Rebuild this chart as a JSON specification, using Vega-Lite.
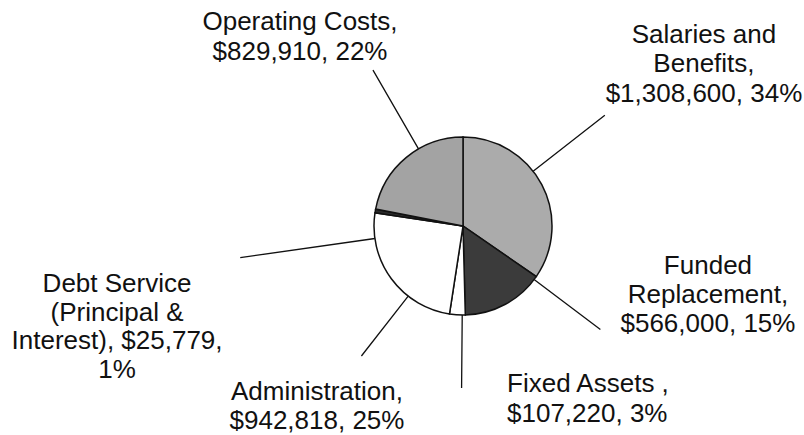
{
  "$schema": "https://vega.github.io/schema/vega-lite/v6.json",
  "width": 682,
  "height": 418,
  "autosize": {"type": "none"},
  "padding": {"left": 122, "top": 17, "right": 0, "bottom": 0},
  "background": "white",
  "config": {"view": {"stroke": null}, "text": {"font": "Liberation Sans"}},
  "data": {
    "values": [
      {"category": "Salaries and Benefits", "amount": 1308600, "order": 1, "label": "Salaries and\nBenefits,\n$1,308,600, 34%"},
      {"category": "Funded Replacement", "amount": 566000, "order": 2, "label": "Funded\nReplacement,\n$566,000, 15%"},
      {"category": "Fixed Assets", "amount": 107220, "order": 3, "label": "Fixed Assets ,\n$107,220, 3%"},
      {"category": "Administration", "amount": 942818, "order": 4, "label": "Administration,\n$942,818, 25%"},
      {"category": "Debt Service", "amount": 25779, "order": 5, "label": "Debt Service\n(Principal &\nInterest), $25,779,\n1%"},
      {"category": "Operating Costs", "amount": 829910, "order": 6, "label": "Operating Costs,\n$829,910, 22%"}
    ]
  },
  "encoding": {
    "theta": {"field": "amount", "type": "quantitative", "stack": true},
    "order": {"field": "order", "type": "quantitative"}
  },
  "layer": [
    {
      "mark": {"type": "arc", "radius": 89, "stroke": "#111111", "strokeWidth": 1.5},
      "encoding": {
        "color": {
          "field": "category", "type": "nominal", "legend": null,
          "scale": {
            "domain": ["Salaries and Benefits", "Funded Replacement", "Fixed Assets", "Administration", "Debt Service", "Operating Costs"],
            "range": ["#ababab", "#3b3b3b", "#ffffff", "#ffffff", "#2a2a2a", "#a3a3a3"]
          }
        }
      }
    },
    {
      "mark": {"type": "arc", "radius": 180, "radius2": 89, "padAngle": 3.1416, "thetaOffset": 0.166, "theta2Offset": 0.166, "fillOpacity": 0, "stroke": "#111111", "strokeWidth": 1.3},
      "encoding": {"strokeOpacity": {"condition": {"test": "datum.category === 'Operating Costs'", "value": 1}, "value": 0}}
    },
    {
      "mark": {"type": "arc", "radius": 180, "radius2": 89, "padAngle": 3.1416, "thetaOffset": -0.18, "theta2Offset": -0.18, "fillOpacity": 0, "stroke": "#111111", "strokeWidth": 1.3},
      "encoding": {"strokeOpacity": {"condition": {"test": "datum.category === 'Salaries and Benefits'", "value": 1}, "value": 0}}
    },
    {
      "mark": {"type": "arc", "radius": 172, "radius2": 89, "padAngle": 3.1416, "thetaOffset": -0.429, "theta2Offset": -0.429, "fillOpacity": 0, "stroke": "#111111", "strokeWidth": 1.3},
      "encoding": {"strokeOpacity": {"condition": {"test": "datum.category === 'Funded Replacement'", "value": 1}, "value": 0}}
    },
    {
      "mark": {"type": "arc", "radius": 162, "radius2": 89, "padAngle": 3.1416, "thetaOffset": -0.0545, "theta2Offset": -0.0545, "fillOpacity": 0, "stroke": "#111111", "strokeWidth": 1.3},
      "encoding": {"strokeOpacity": {"condition": {"test": "datum.category === 'Fixed Assets'", "value": 1}, "value": 0}}
    },
    {
      "mark": {"type": "arc", "radius": 165, "radius2": 89, "padAngle": 3.1416, "thetaOffset": -0.2726, "theta2Offset": -0.2726, "fillOpacity": 0, "stroke": "#111111", "strokeWidth": 1.3},
      "encoding": {"strokeOpacity": {"condition": {"test": "datum.category === 'Administration'", "value": 1}, "value": 0}}
    },
    {
      "mark": {"type": "arc", "radius": 225, "radius2": 89, "padAngle": 3.1416, "thetaOffset": -0.311, "theta2Offset": -0.311, "fillOpacity": 0, "stroke": "#111111", "strokeWidth": 1.3},
      "encoding": {"strokeOpacity": {"condition": {"test": "datum.category === 'Debt Service'", "value": 1}, "value": 0}}
    },
    {
      "mark": {"type": "text", "radius": 307.5, "thetaOffset": -0.1871, "align": "center", "baseline": "middle", "fontSize": 26, "lineBreak": "\n", "lineHeight": 29.5, "fill": "#111111"},
      "encoding": {"text": {"condition": {"test": "datum.category === 'Salaries and Benefits'", "field": "label"}, "value": ""}}
    },
    {
      "mark": {"type": "text", "radius": 248.2, "thetaOffset": -0.9128, "align": "center", "baseline": "middle", "fontSize": 26, "lineBreak": "\n", "lineHeight": 29, "fill": "#111111"},
      "encoding": {"text": {"condition": {"test": "datum.category === 'Funded Replacement'", "field": "label"}, "value": ""}}
    },
    {
      "mark": {"type": "text", "radius": 164, "thetaOffset": -0.3349, "align": "left", "baseline": "middle", "fontSize": 26, "lineBreak": "\n", "lineHeight": 30, "fill": "#111111"},
      "encoding": {"text": {"condition": {"test": "datum.category === 'Fixed Assets'", "field": "label"}, "value": ""}}
    },
    {
      "mark": {"type": "text", "radius": 221.1, "thetaOffset": -0.2145, "align": "center", "baseline": "middle", "fontSize": 26, "lineBreak": "\n", "lineHeight": 29, "fill": "#111111"},
      "encoding": {"text": {"condition": {"test": "datum.category === 'Administration'", "field": "label"}, "value": ""}}
    },
    {
      "mark": {"type": "text", "radius": 350.8, "thetaOffset": -0.3361, "align": "center", "baseline": "middle", "fontSize": 26, "lineBreak": "\n", "lineHeight": 28.5, "fill": "#111111"},
      "encoding": {"text": {"condition": {"test": "datum.category === 'Debt Service'", "field": "label"}, "value": ""}}
    },
    {
      "mark": {"type": "text", "radius": 261.1, "thetaOffset": 0.0155, "align": "center", "baseline": "middle", "fontSize": 26, "lineBreak": "\n", "lineHeight": 30, "fill": "#111111"},
      "encoding": {"text": {"condition": {"test": "datum.category === 'Operating Costs'", "field": "label"}, "value": ""}}
    }
  ]
}
